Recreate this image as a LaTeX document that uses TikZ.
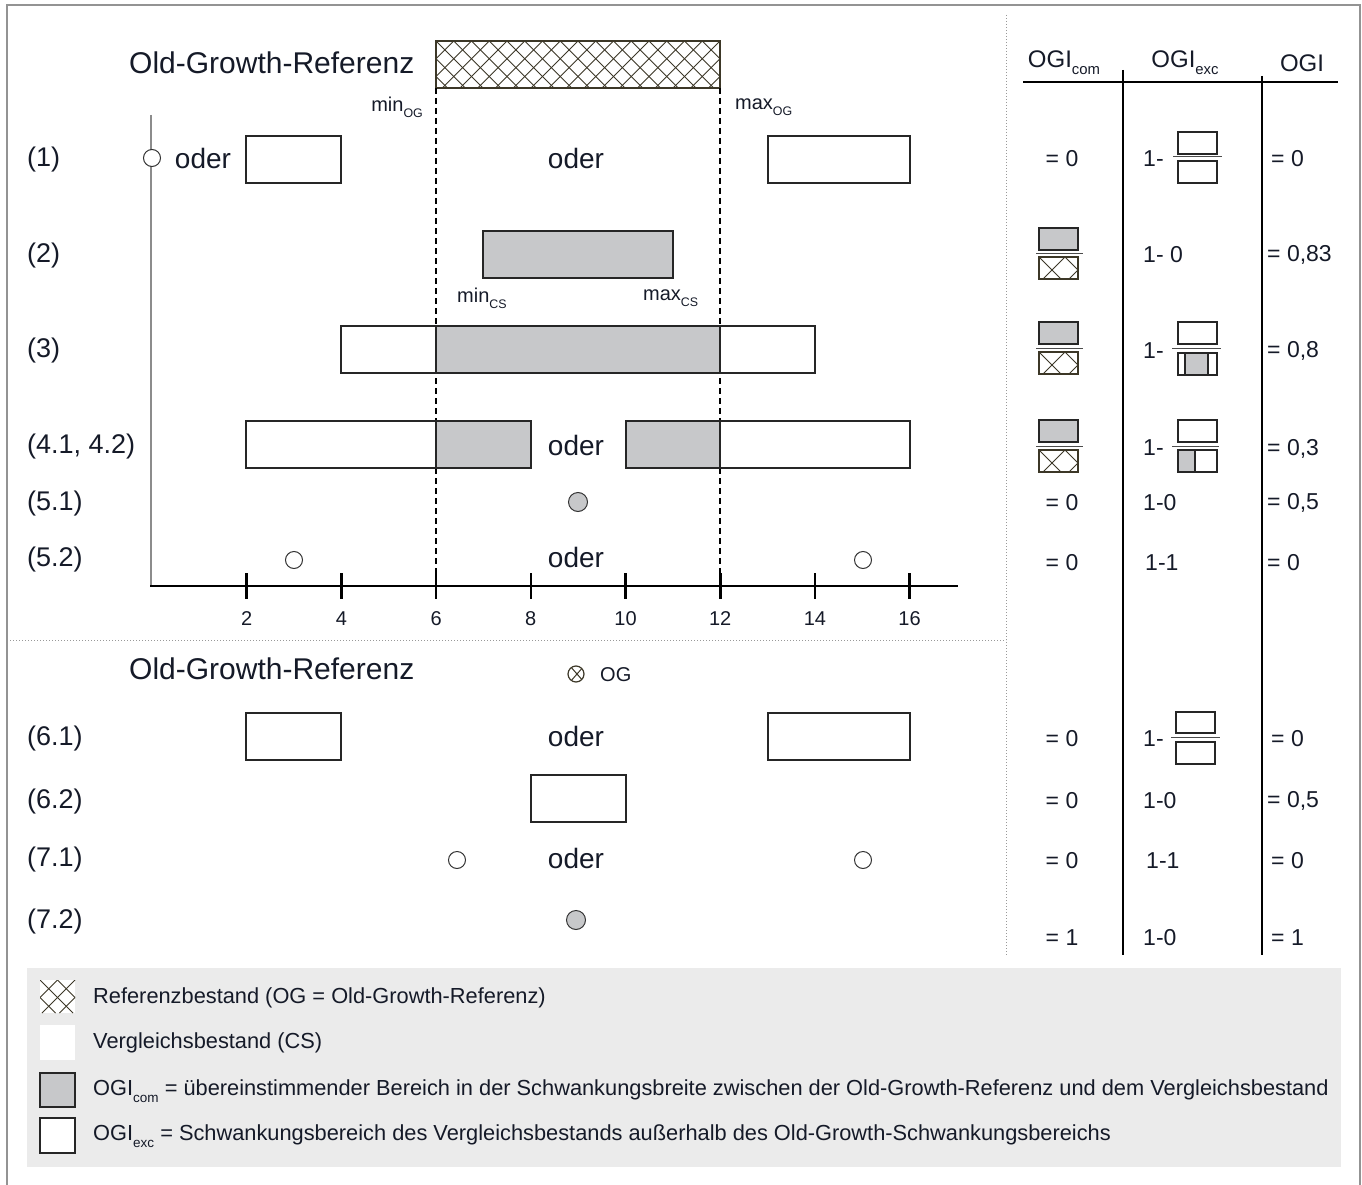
\documentclass[tikz,border=0pt]{standalone}
\usepackage{fontspec}
\setmainfont{Liberation Sans}
\newcommand\fsz[1]{\fontsize{#1}{#1}\selectfont}
\newcommand\lsub[1]{\raisebox{-0.3em}{\scalebox{0.62}{#1}}}
\definecolor{txt}{HTML}{151A28}
\definecolor{cgray}{HTML}{C7C8CA}
\definecolor{hatchc}{HTML}{3C3727}
\definecolor{legbg}{HTML}{EBEBEB}
\newcommand\hatchrect[5]{%
  \begin{scope}
    \clip (#1,#2) rectangle (#3,#4);
    \pgfmathsetmacro\hh{#4-#2}
    \foreach \k in {-6,...,40}{
      \draw[hatchc,line width=0.9pt] ({#1+\k*#5},#2) -- ++(\hh,\hh);
      \draw[hatchc,line width=0.9pt] ({#1+\k*#5},#2) -- ++(-\hh,\hh);
    }
  \end{scope}}
\begin{document}
\begin{tikzpicture}[x=1pt,y=-1pt,
  every node/.style={inner sep=0pt,text=txt},
  lbl/.style={font=\fsz{27},anchor=west},
  oder/.style={font=\fsz{28}},
  tv/.style={font=\fsz{23}},
  tick/.style={font=\fsz{20}},
  legt/.style={font=\fsz{21.8},anchor=west},
  cbox/.style={draw=black!85,line width=1.4pt,fill=white},
  gbox/.style={draw=black!85,line width=1.4pt,fill=cgray},
  tbox/.style={draw=black!85,line width=1.2pt,fill=white},
  tgbox/.style={draw=black!85,line width=1.2pt,fill=cgray},
  dot/.style={draw=black!80,line width=1pt,fill=white},
  gdot/.style={draw=black!80,line width=1pt,fill=cgray},
  sep/.style={draw=gray!80,line width=1pt,dotted},
  dline/.style={draw=black,line width=1.2pt,dash pattern=on 6pt off 4pt},
  fline/.style={draw=black!70,line width=1pt}]
\useasboundingbox (0,0) rectangle (1362,1185);
% frame
\draw[gray!85,line width=1.2pt] (7,5) rectangle (1360,1186);
% separators
\draw[sep] (1006,15) -- (1006,955);
\draw[sep] (10,640) -- (1006,640);
% legend background
\fill[legbg] (27,968) rectangle (1341,1167);

% titles
\node[font=\fsz{30},anchor=west] (t1) at (129,63) {Old-Growth-Referenz};
\node[font=\fsz{30},anchor=west] (t2) at (129,669) {Old-Growth-Referenz};

% hatched reference
\fill[white] (436,41) rectangle (720,88);
\hatchrect{436}{41}{720}{88}{17.75}
\draw[hatchc,line width=1.6pt] (436,41) rectangle (720,88);
\node[font=\fsz{20},anchor=east] (minog) at (423,107) {min\lsub{OG}};
\node[font=\fsz{20},anchor=west] (maxog) at (735,107) {max\lsub{OG}};

% dashed limits
\draw[dline] (436,88) -- (436,586);
\draw[dline] (720,88) -- (720,586);

% axes
\draw[gray!90,line width=1.5pt] (151,115) -- (151,586);
\draw[black,line width=2.6pt] (150,586) -- (958,586);
\foreach \v in {2,4,...,16}{
  \draw[black,line width=2.6pt] ({152+47.35*\v},573) -- ({152+47.35*\v},599);
  \node[tick] (tk\v) at ({152+47.35*\v},619) {\v};
}

% row labels
\node[lbl] (r1) at (27,160) {(1)};
\node[lbl] (r2) at (27,256) {(2)};
\node[lbl] (r3) at (27,351) {(3)};
\node[lbl] (r4) at (27,447) {(4.1, 4.2)};
\node[lbl] (r51) at (27,504) {(5.1)};
\node[lbl] (r52) at (27,560) {(5.2)};
\node[lbl] (r61) at (27,739) {(6.1)};
\node[lbl] (r62) at (27,802) {(6.2)};
\node[lbl] (r71) at (27,860) {(7.1)};
\node[lbl] (r72) at (27,922) {(7.2)};

% row 1
\draw[dot] (152,158) circle (8.5);
\node[oder] (o1a) at (203,158) {oder};
\draw[cbox] (246,136) rectangle (341,183);
\node[oder] (o1b) at (576,158) {oder};
\draw[cbox] (768,136) rectangle (910,183);

% row 2
\draw[gbox] (483,231) rectangle (673,278);
\node[font=\fsz{20},anchor=west] (mincs) at (457,298) {min\lsub{CS}};
\node[font=\fsz{20},anchor=west] (maxcs) at (643,298) {max\lsub{CS}};

% row 3
\draw[cbox] (341,326) rectangle (815,373);
\draw[gbox] (436,326) rectangle (720,373);

% row 4
\draw[cbox] (246,421) rectangle (531,468);
\draw[gbox] (436,421) rectangle (531,468);
\node[oder] (o4) at (576,445) {oder};
\draw[cbox] (626,421) rectangle (910,468);
\draw[gbox] (626,421) rectangle (720,468);

% row 5
\draw[gdot] (578,502) circle (9.5);
\draw[dot] (294,560) circle (8.5);
\node[oder] (o5) at (576,557) {oder};
\draw[dot] (863,560) circle (8.5);

% OG marker
\begin{scope}
\clip (576,674) circle (8);
\draw[hatchc,line width=1pt] (570,666) -- (584,682);
\draw[hatchc,line width=1pt] (570,682) -- (584,666);
\end{scope}
\draw[hatchc,line width=1.2pt] (576,674) circle (8);
\node[font=\fsz{20},anchor=west] (og) at (600,675) {OG};

% row 6
\draw[cbox] (246,713) rectangle (341,760);
\node[oder] (o6) at (576,736) {oder};
\draw[cbox] (768,713) rectangle (910,760);
\draw[cbox] (531,775) rectangle (626,822);

% row 7
\draw[dot] (457,860) circle (8.5);
\node[oder] (o7) at (576,858) {oder};
\draw[dot] (863,860) circle (8.5);
\draw[gdot] (576,920) circle (9.5);

% table header
\node[font=\fsz{24}] (hcom) at (1064,63) {OGI\lsub{com}};
\node[font=\fsz{24}] (hexc) at (1185,63) {OGI\lsub{exc}};
\node[font=\fsz{24}] (hogi) at (1302,63) {OGI};
\draw[black,line width=1.4pt] (1023,82) -- (1338,82);
\draw[black,line width=1.4pt] (1123,70) -- (1123,955);
\draw[black,line width=1.4pt] (1262,76) -- (1262,955);

% table row 1
\node[tv] (c1) at (1062,159) {= 0};
\node[tv,anchor=west] (e1) at (1143,159) {1-};
\draw[tbox] (1178,132) rectangle (1217,154);
\draw[fline] (1173,157) -- (1222,157);
\draw[tbox] (1178,161) rectangle (1217,183);
\node[tv,anchor=west] (g1) at (1271,159) {= 0};

% table row 2
\draw[tgbox] (1039,228) rectangle (1078,250);
\draw[fline] (1036,253) -- (1083,253);
\fill[white] (1039,257) rectangle (1078,279);
\hatchrect{1039}{257}{1078}{279}{26}
\draw[hatchc,line width=1.2pt] (1039,257) rectangle (1078,279);
\node[tv,anchor=west] (e2) at (1143,255) {1- 0};
\node[tv,anchor=west] (g2) at (1267,255) {= 0,83};

% table row 3
\draw[tgbox] (1039,322) rectangle (1078,344);
\draw[fline] (1036,348) -- (1083,348);
\fill[white] (1039,352) rectangle (1078,374);
\hatchrect{1039}{352}{1078}{374}{26}
\draw[hatchc,line width=1.2pt] (1039,352) rectangle (1078,374);
\node[tv,anchor=west] (e3) at (1143,351) {1-};
\draw[tbox] (1178,322) rectangle (1217,344);
\draw[fline] (1172,348) -- (1221,348);
\draw[tbox] (1178,353) rectangle (1217,375);
\draw[tgbox] (1185,353) rectangle (1208,375);
\node[tv,anchor=west] (g3) at (1267,351) {= 0,8};

% table row 4
\draw[tgbox] (1039,420) rectangle (1078,442);
\draw[fline] (1036,446) -- (1083,446);
\fill[white] (1039,450) rectangle (1078,472);
\hatchrect{1039}{450}{1078}{472}{26}
\draw[hatchc,line width=1.2pt] (1039,450) rectangle (1078,472);
\node[tv,anchor=west] (e4) at (1143,448) {1-};
\draw[tbox] (1178,420) rectangle (1217,442);
\draw[fline] (1172,446) -- (1219,446);
\draw[tbox] (1178,450) rectangle (1217,472);
\draw[tgbox] (1178,450) rectangle (1195,472);
\node[tv,anchor=west] (g4) at (1267,449) {= 0,3};

% table rows 5
\node[tv] (c51) at (1062,503) {= 0};
\node[tv,anchor=west] (e51) at (1143,503) {1-0};
\node[tv,anchor=west] (g51) at (1267,503) {= 0,5};
\node[tv] (c52) at (1062,563) {= 0};
\node[tv,anchor=west] (e52) at (1145,563) {1-1};
\node[tv,anchor=west] (g52) at (1267,563) {= 0};

% table row 6
\node[tv] (c61) at (1062,739) {= 0};
\node[tv,anchor=west] (e61) at (1143,739) {1-};
\draw[tbox] (1176,712) rectangle (1215,733);
\draw[fline] (1171,737) -- (1220,737);
\draw[tbox] (1176,742) rectangle (1215,764);
\node[tv,anchor=west] (g61) at (1271,739) {= 0};
\node[tv] (c62) at (1062,801) {= 0};
\node[tv,anchor=west] (e62) at (1143,801) {1-0};
\node[tv,anchor=west] (g62) at (1267,801) {= 0,5};

% table row 7
\node[tv] (c71) at (1062,861) {= 0};
\node[tv,anchor=west] (e71) at (1146,861) {1-1};
\node[tv,anchor=west] (g71) at (1271,861) {= 0};
\node[tv] (c72) at (1062,938) {= 1};
\node[tv,anchor=west] (e72) at (1143,938) {1-0};
\node[tv,anchor=west] (g72) at (1271,938) {= 1};

% legend
\fill[white] (40,980) rectangle (75,1013);
\hatchrect{40}{980}{75}{1013}{17.5}
\node[legt] (l1) at (93,998) {Referenzbestand (OG = Old-Growth-Referenz)};
\fill[white] (40,1025) rectangle (75,1060);
\node[legt] (l2) at (93,1043) {Vergleichsbestand (CS)};
\draw[gbox,line width=1.2pt] (40,1073) rectangle (75,1107);
\node[legt] (l3) at (93,1091) {OGI\lsub{com} = übereinstimmender Bereich in der Schwankungsbreite zwischen der Old-Growth-Referenz und dem Vergleichsbestand};
\draw[cbox,line width=1.2pt] (40,1118) rectangle (75,1153);
\node[legt] (l4) at (93,1136) {OGI\lsub{exc} = Schwankungsbereich des Vergleichsbestands außerhalb des Old-Growth-Schwankungsbereichs};
\end{tikzpicture}
\end{document}
